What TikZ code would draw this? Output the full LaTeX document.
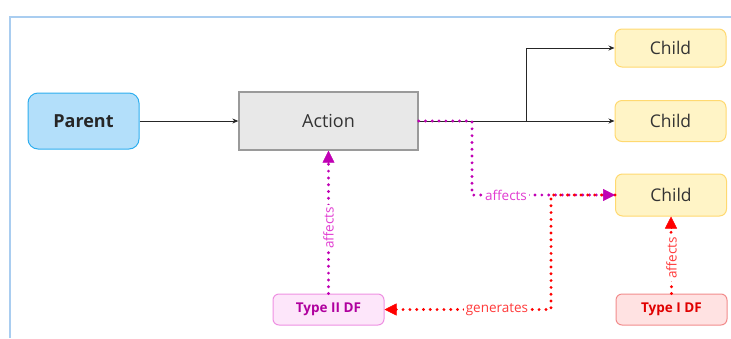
\documentclass[tikz,border=0pt]{standalone}
\usepackage{fontspec}
\setmainfont{Open Sans}
\usetikzlibrary{arrows.meta}

\definecolor{framec}{HTML}{A9CDF0}
\definecolor{parentfill}{HTML}{B3DFFA}
\definecolor{parentline}{HTML}{2EAEEF}
\definecolor{actfill}{HTML}{E8E8E8}
\definecolor{actline}{HTML}{9A9A9A}
\definecolor{childfill}{HTML}{FFF4C6}
\definecolor{childline}{HTML}{FFD970}
\definecolor{magline}{HTML}{C000B4}
\definecolor{maglabel}{HTML}{E23CD2}
\definecolor{magfill}{HTML}{FDE6FA}
\definecolor{magbox}{HTML}{EE90E2}
\definecolor{magtext}{HTML}{B0009E}
\definecolor{redline}{HTML}{FF0000}
\definecolor{redlabel}{HTML}{FF3A3A}
\definecolor{redfill}{HTML}{FFE2E2}
\definecolor{redbox}{HTML}{F28C8C}
\definecolor{redtext}{HTML}{E00000}
\definecolor{ink}{HTML}{333333}

\tikzset{
  box/.style={draw, line width=1pt, inner sep=0pt, align=center},
  parentbox/.style={box, fill=parentfill, draw=parentline, rounded corners=10pt,
    minimum width=111pt, minimum height=56pt, font=\fontsize{18}{20}\selectfont\bfseries, text=black!85},
  actionbox/.style={box, fill=actfill, draw=actline, line width=1.3pt,
    minimum width=179pt, minimum height=58pt, font=\fontsize{18}{20}\selectfont, text=ink},
  childbox/.style={box, fill=childfill, draw=childline, rounded corners=7pt,
    minimum width=111pt, font=\fontsize{17.5}{20}\selectfont, text=ink},
  dfbox/.style={box, rounded corners=6pt, minimum width=111pt, minimum height=31pt,
    font=\fontsize{13.5}{15}\selectfont\bfseries},
  flow/.style={draw=black!85, line width=1pt, -{Stealth[length=6pt,width=5pt]}},
  dotline/.style={line width=3.2pt, line cap=round, dash pattern=on 0pt off 6.8pt},
  magdot/.style={dotline, draw=magline},
  reddot/.style={dotline, draw=redline},
  magtip/.style={-{Triangle[length=12pt,width=12pt]}, magline},
  redtip/.style={-{Triangle[length=12pt,width=12pt]}, redline},
  lbl/.style={fill=white, inner sep=2pt, font=\fontsize{13.5}{15}\selectfont},
}

\begin{document}
\begin{tikzpicture}[x=1pt, y=-1pt]
\useasboundingbox (0,0) rectangle (731,338);

% outer frame (top and left edges)
\draw[framec, line width=1.6pt] (10,338) -- (10,17) -- (731,17);

% boxes
\node[parentbox] (parent) at (83.5,121) {Parent};
\node[actionbox] (action) at (328.5,121) {Action};
\node[childbox, minimum height=38pt] (child1) at (670.5,48) {Child};
\node[childbox, minimum height=41pt] (child2) at (670.5,121) {Child};
\node[childbox, minimum height=42pt] (child3) at (671,195) {Child};
\node[dfbox, fill=magfill, draw=magbox, text=magtext] (df2) at (328.5,309.5) {Type II DF};
\node[dfbox, fill=redfill, draw=redbox, text=redtext] (df1) at (671.5,309.5) {Type I DF};

% bend points
\coordinate (split) at (526,121);
\coordinate (mbend) at (472,121);
\coordinate (rbend) at (551,195);
\coordinate (rlow) at (551,309.5);

% solid flow
\draw[flow] (parent.east) -- (action.west);
\draw[flow] (action.east) -- (child2.west);
\draw[flow] (split) |- (child1.west);

% Type II DF affects the action
\draw[magdot] (df2.north) -- ([yshift=-10pt]action.south);
\node[lbl, text=maglabel, rotate=90] (aff2) at (328.5,228) {affects};
\draw[magtip, line width=0.5pt] ([yshift=-11pt]action.south) -- (action.south);

% action affects the third child
\draw[magdot] (action.east) -- (mbend) |- ([xshift=-10pt]child3.west);
\node[lbl, text=maglabel] (aff1) at (506,195) {affects};

% third child generates Type II DF
\draw[reddot] (child3.west) -- (rbend) -- (rlow) -- ([xshift=10pt]df2.east);
\node[lbl, text=redlabel] (gen) at (497,309.5) {generates};
\draw[redtip, line width=0.5pt] ([xshift=11pt]df2.east) -- (df2.east);

\draw[magtip, line width=0.5pt] ([xshift=-11pt]child3.west) -- (child3.west);

% Type I DF affects the third child
\draw[reddot] (df1.north) -- ([yshift=-10pt]child3.south);
\node[lbl, text=redlabel, rotate=90] (aff3) at (671.5,258) {affects};
\draw[redtip, line width=0.5pt] ([yshift=-11pt]child3.south) -- (child3.south);
\end{tikzpicture}
\end{document}
